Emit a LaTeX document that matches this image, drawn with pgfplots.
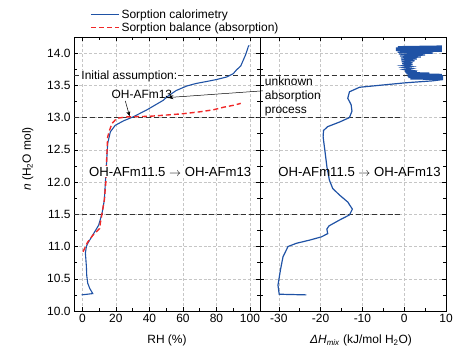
\documentclass[border=0pt]{standalone}
\usepackage{pgfplots}
\pgfplotsset{compat=1.18}
\usepackage{fontspec}
\setmainfont{Liberation Sans}
\usetikzlibrary{arrows.meta}

\definecolor{calblue}{RGB}{31,82,165}
\definecolor{balred}{RGB}{240,40,40}

\newcommand{\lf}{\fontsize{12}{14}\selectfont}

\pgfplotsset{
  panel/.style={
    scale only axis, width=186bp, height=274bp,
    ymin=10, ymax=14.25,
    ytick={10,10.5,...,14}, minor y tick num=1,
    grid=major,
    major grid style={gray!45, dash pattern=on 3pt off 2pt},
    axis line style={line width=0.6pt},
    every tick/.style={black, line width=0.5pt},
    tick label style={font=\lf},
    label style={font=\lf},
    xlabel shift=5pt,
    /pgf/number format/assume math mode=true,
    clip=false,
  },
  refline/.style={black!80, line width=0.7pt, dash pattern=on 5pt off 3pt},
}

\begin{document}
\begin{tikzpicture}
% left panel: RH
\begin{axis}[panel, at={(0,0)}, anchor=south west,
  xmin=-5, xmax=106,
  xtick={0,20,...,100}, minor x tick num=1,
  yticklabel style={/pgf/number format/.cd, fixed, fixed zerofill, precision=1},
  xlabel={RH (\%)},
  ylabel={\textit{n} (H\textsubscript{2}O mol)},
  ylabel shift=7pt,
  ylabel style={at={(ticklabel cs:0.555)}},
  legend style={draw=none, fill=none, at={(0.07,1.0)}, anchor=south west,
    font=\lf, row sep=-1pt},
  legend cell align=left,
  legend image code/.code={\draw[#1] (0bp,0bp) -- (28bp,0bp);},
]
\addlegendimage{calblue, line width=1.1pt}
\addlegendentry{Sorption calorimetry}
\addlegendimage{balred, line width=1.4pt, dash pattern=on 5pt off 3pt}
\addlegendentry{Sorption balance (absorption)}

\addplot[refline, forget plot] coordinates {(-5,13.0) (106,13.0)};
\addplot[refline, forget plot] coordinates {(-5,11.5) (106,11.5)};
\addplot[refline, forget plot] coordinates {(-5,13.66) (106,13.66)};

\addplot[calblue, line width=1.1pt, forget plot] coordinates {
  (-0.5,10.25) (6.2,10.27) (4.4,10.35) (3.2,10.43) (2.6,10.55) (2.4,10.69)
  (1.8,10.90) (2.4,11.00) (3.2,11.05) (6.7,11.20) (9.7,11.33) (11.7,11.51)
  (13.1,11.72) (13.7,11.98) (14.3,12.24) (15.1,12.60) (16.7,12.78) (19.6,12.88)
  (24.6,12.95) (30.2,13.01) (38.5,13.12) (48.4,13.27) (50.4,13.32) (56.0,13.42)
  (62.3,13.49) (68.0,13.53) (74.2,13.56) (80.0,13.59) (86.1,13.63) (90.0,13.68)
  (92.0,13.74) (94.5,13.80) (96.0,13.89) (97.5,13.98) (99.0,14.10) (99.5,14.12)
};
\addplot[balred, line width=1.4pt, dash pattern=on 5pt off 3pt, forget plot] coordinates {
  (0.4,10.92) (3.2,11.07) (6.4,11.18) (10.3,11.28) (10.7,11.36) (11.7,11.51)
  (13.1,11.72) (14.0,12.00) (14.3,12.24) (15.1,12.70) (16.3,12.81) (17.7,12.91)
  (20.6,12.99) (26.6,13.01) (40.0,13.02) (50.4,13.04) (60.0,13.06) (70.2,13.09)
  (78.0,13.12) (84.1,13.16) (90.0,13.19) (94.5,13.22)
};

\node[fill=white, inner sep=1pt, font=\lf] at (axis cs:28,13.64) {Initial assumption:};
\node[inner sep=1pt, font=\lf] at (axis cs:35.5,13.36) {OH-AFm13};
\draw[-{Stealth[length=5pt,width=4pt]}, black, line width=0.5pt] (axis cs:25.6,13.26) -- (axis cs:28.2,13.02);
\draw[-{Stealth[length=6pt,width=4pt]}, black, line width=0.5pt] (axis cs:107.7,13.415) -- (axis cs:50.8,13.31);
\node[fill=white, inner sep=1pt, font=\fontsize{13.2}{15}\selectfont] at (axis cs:52.4,12.16) {OH-AFm11.5 $\rightarrow$ OH-AFm13};
\end{axis}

% right panel: mixing enthalpy
\begin{axis}[panel, at={(186bp,0)}, anchor=south west,
  xmin=-34.5, xmax=10,
  xtick={-30,-20,...,10}, minor x tick num=1,
  yticklabels={},
  xlabel={\textit{ΔH}\textsubscript{\textit{mix}} (kJ/mol H\textsubscript{2}O)},
  xlabel style={xshift=8bp},
]
\addplot[refline] coordinates {(-34.5,13.0) (-1,13.0)};
\addplot[refline] coordinates {(-34.5,11.5) (-1,11.5)};
\addplot[refline] coordinates {(-34.5,13.66) (10,13.66)};

\addplot[calblue, line width=1.2pt] coordinates {
  (-23.4,10.25) (-29.9,10.26) (-30.2,10.40) (-29.6,10.64) (-29.0,10.84)
  (-27.8,11.00) (-25.8,11.05) (-22.6,11.10) (-19.8,11.15) (-18.3,11.20)
  (-18.5,11.27) (-18.0,11.32) (-15.5,11.41) (-13.1,11.49) (-12.4,11.58)
  (-13.5,11.69) (-15.5,11.80) (-17.1,11.90) (-17.9,12.03) (-18.5,12.24)
  (-19.0,12.50) (-19.4,12.70) (-19.3,12.80) (-18.3,12.86) (-15.5,12.93)
  (-13.1,13.00) (-12.5,13.10) (-12.7,13.20) (-13.5,13.30) (-13.1,13.40)
  (-10.7,13.47) (-6.0,13.50) (0.4,13.54) (6.8,13.57) (9.3,13.59)
  (1.5,13.60) (9.3,13.61) (1.0,13.62) (9.3,13.63) (0.8,13.64) (9.3,13.65)
  (0.8,13.66) (9.0,13.67) (0.5,13.68) (6.0,13.69) (0.3,13.70) (3.0,13.71)
  (0.2,13.72) (2.0,13.73) (0.0,13.745) (1.8,13.76) (-0.2,13.775) (1.8,13.79)
  (-0.4,13.805) (2.0,13.82) (-0.5,13.835) (2.0,13.85) (-0.6,13.865) (2.5,13.88)
  (-0.7,13.895) (3.0,13.91) (-0.8,13.925) (4.0,13.94) (-1.0,13.955) (5.0,13.97)
  (-1.3,13.985) (7.0,14.00) (-1.6,14.015) (9.0,14.03) (-2.0,14.04) (9.0,14.05)
  (-2.0,14.06) (9.0,14.07) (-2.0,14.08) (9.0,14.09) (-1.5,14.10) (9.0,14.11)
};

\node[anchor=west, align=left, inner sep=1pt, font=\lf] at (axis cs:-33.6,13.33) {unknown\\absorption\\process};
\node[inner sep=1pt, font=\fontsize{13.2}{15}\selectfont] at (axis cs:-10.7,12.16) {OH-AFm11.5 $\rightarrow$ OH-AFm13};
\end{axis}

\pgfresetboundingbox
\path[use as bounding box] (-74bp,-43bp) rectangle (385bp,311bp);
\end{tikzpicture}
\end{document}
